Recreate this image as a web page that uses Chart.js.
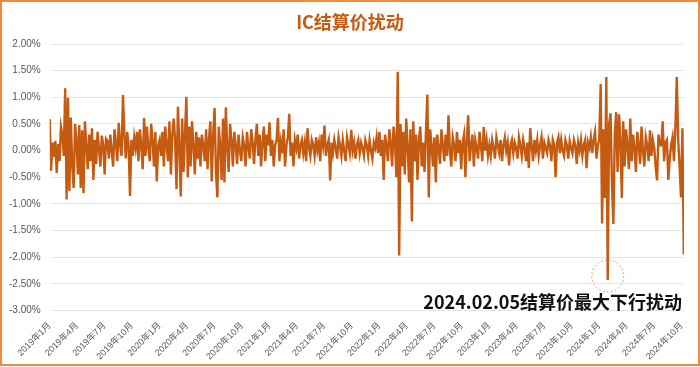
<!DOCTYPE html>
<html>
<head>
<meta charset="utf-8">
<script src="https://cdn.jsdelivr.net/npm/chart.js@4.4.1/dist/chart.umd.min.js"></script>
<style>
  html, body { margin: 0; padding: 0; background: #fff; }
  #wrap { position: relative; width: 700px; height: 367px; }
</style>
</head>
<body>
<div id="wrap"><canvas id="c"></canvas></div>
<script>
/* ── Data (percent) ───────────────────────────────────────────── */
const quarterLabels = [
    '2019年1月', '2019年4月', '2019年7月', '2019年10月',
    '2020年1月', '2020年4月', '2020年7月', '2020年10月',
    '2021年1月', '2021年4月', '2021年7月', '2021年10月',
    '2022年1月', '2022年4月', '2022年7月', '2022年10月',
    '2023年1月', '2023年4月', '2023年7月', '2023年10月',
    '2024年1月', '2024年4月', '2024年7月', '2024年10月'
];
const pointsPerYear = 78;

const y2019 = [0.59, -0.38, 0.15, -0.12, 0.18, -0.42, 0.12, -0.2, 0.45, 0.3, -0.1, 1.17, -0.92, 0.99, -0.76, 0.62, -0.3, -0.7, 0.5, 0.2,
    -0.45, 0.48, -0.7, 0.38, -0.8, 0.55, 0.1, -0.35, 0.3, -0.2, 0.42, -0.55, 0.2, -0.25, 0.35, 0.05, -0.3, 0.28, 0.1, -0.45,
    0.22, 0.18, -0.15, 0.3, 0.0, -0.3, 0.4, 0.15, -0.2, 0.52, 0.1, -0.1, 1.04, 0.3, -0.15, 0.35, 0.1, -0.85, 0.2, -0.1,
    0.25, 0.05, 0.35, -0.2, 0.4, 0.1, -0.35, 0.61, -0.1, 0.45, 0.05, -0.2, 0.5, 0.2, -0.3, 0.35, -0.58, 0.1];
const y2020 = [0.2, -0.1, 0.35, -0.3, 0.45, 0.1, -0.2, 0.55, -0.45, 0.3, 0.6, 0.2, -0.72, 0.82, 0.1, -0.86, 0.6, -0.4, 0.3, 1.01,
    -0.5, 0.45, -0.3, 0.55, 0.1, -0.45, 0.35, -0.15, 0.25, -0.3, 0.3, 0.1, -0.2, 0.4, -0.35, 0.2, 0.55, -0.58, 0.3, 0.8,
    -0.4, -0.88, 0.45, 0.1, -0.55, 0.6, -0.6, 0.81, 0.05, -0.4, 0.5, 0.2, -0.3, 0.35, 0.1, -0.25, 0.3, 0.0, -0.2, 0.25,
    0.1, -0.3, 0.35, 0.05, -0.15, 0.4, 0.15, -0.25, 0.2, 0.5, -0.1, 0.3, -0.3, 0.15, 0.45, -0.2, 0.3, 0.1];
const y2021 = [0.53, -0.1, 0.2, -0.3, 0.1, 0.2, 0.61, -0.2, 0.15, -0.05, 0.4, -0.3, 0.1, 0.25, 0.69, -0.1, 0.15, -0.3, 0.2, 0.05,
    0.3, -0.15, 0.1, 0.2, -0.05, 0.15, -0.2, 0.42, 0.05, -0.1, 0.2, 0.1, -0.1, 0.25, 0.0, 0.15, -0.2, 0.3, 0.1, 0.47,
    -0.1, 0.1, 0.2, -0.56, 0.15, -0.05, 0.2, 0.05, -0.15, 0.25, 0.1, -0.1, 0.2, 0.0, -0.2, 0.25, 0.1, -0.05, 0.39, 0.0,
    0.15, -0.15, 0.1, 0.2, -0.05, 0.15, 0.05, -0.1, 0.2, 0.1, -0.1, 0.2, 0.0, -0.15, 0.15, 0.05, 0.25, -0.05];
const y2022 = [0.35, -0.1, 0.2, -0.55, 0.3, 0.1, -0.2, 0.4, 0.15, -0.3, 0.45, 0.2, -0.5, 1.48, -1.97, 0.5, -0.3, 0.35, -0.45, 0.6,
    0.1, -0.6, 0.4, -1.33, 0.55, -0.2, 0.3, -0.55, 0.2, 0.45, -0.3, 0.15, -0.4, 0.35, 1.05, -0.88, 0.4, 0.1, -0.3, 0.25,
    -0.6, 0.3, 0.05, -0.25, 0.4, 0.1, -0.2, 0.3, -0.1, 0.66, 0.0, -0.3, 0.25, 0.1, -0.2, 0.35, -0.05, 0.2, -0.35, 0.15,
    0.3, -0.5, 0.2, 0.66, -0.2, 0.1, 0.3, -0.3, 0.2, 0.05, -0.15, 0.35, 0.1, -0.2, 0.44, 0.0, 0.2, -0.1];
const y2023 = [0.1, -0.1, 0.2, 0.05, -0.15, 0.25, 0.1, -0.05, 0.2, -0.2, 0.1, 0.25, 0.0, 0.15, -0.28, 0.1, 0.2, -0.05, 0.15, 0.05,
    -0.15, 0.25, 0.1, -0.1, 0.2, 0.05, -0.2, 0.15, -0.33, 0.42, 0.1, -0.2, 0.2, 0.0, 0.2, -0.1, 0.1, 0.25, -0.15, 0.15,
    0.05, -0.05, 0.2, 0.1, -0.2, 0.2, 0.1, -0.5, 0.15, 0.25, -0.05, 0.2, 0.0, -0.1, 0.2, 0.1, -0.15, 0.18, 0.05, -0.05,
    0.2, 0.1, -0.25, 0.15, 0.0, 0.2, -0.1, 0.1, 0.2, -0.33, 0.15, 0.05, 0.25, -0.05, 0.2, 0.35, -0.15, 0.1];
const y2024 = [0.2, 1.25, -1.37, 0.4, -0.89, 1.38, -2.43, 0.5, 0.7, -0.6, -1.38, 0.3, 0.72, -0.4, 0.68, 0.2, -0.89, 0.55, -0.3, 0.4,
    0.1, -0.35, 0.6, -0.2, 0.3, 0.05, -0.4, 0.35, 0.1, -0.25, 0.45, 0.0, -0.3, 0.25, 0.1, -0.2, 0.38, -0.1, 0.2, 0.05,
    -0.3, -0.56, 0.3, 0.1, 0.1, 0.55, -0.2, 0.15, 0.2, -0.55, -0.15, 0.1, 0.25, -0.2, 0.4, 1.38, 0.2, -0.3, -0.88, 0.42,
    -1.95];

const yearSeries = [y2019, y2020, y2021, y2022, y2023, y2024];
const yTicks = [2, 1.5, 1, 0.5, 0, -0.5, -1, -1.5, -2, -2.5, -3];
const titleText = 'IC结算价扰动';
const noteText = '2024.02.05结算价最大下行扰动';

/* ── Build points (x = months since Jan 2019) ─────────────────── */
const points = [];
yearSeries.forEach((arr, yi) => {
    arr.forEach((v, i) => points.push({ x: yi * 12 + i * 12 / pointsPerYear, y: v }));
});

const ORANGE = '#C55A11';
const FONT = '"Noto Sans CJK SC", "Noto Sans", sans-serif';
const TICK_FONT = '"Liberation Sans", "Noto Sans CJK SC", sans-serif';

/* ── Plugins: frame + title + min-point note ──────────────────── */
const framePlugin = {
    id: 'frame',
    afterDraw(chart) {
        const { ctx, width, height } = chart;
        ctx.save();
        ctx.strokeStyle = '#F08A3C';
        ctx.lineWidth = 2;
        ctx.strokeRect(1, 1, width - 2, height - 3);
        // title centred on the whole picture
        ctx.fillStyle = ORANGE;
        ctx.font = 'bold 18px ' + FONT;
        ctx.textAlign = 'center';
        ctx.textBaseline = 'middle';
        ctx.fillText(titleText, width / 2, 22);
        ctx.restore();
    }
};

const notePlugin = {
    id: 'note',
    afterDatasetsDraw(chart) {
        const { ctx, chartArea, scales } = chart;
        let min = points[0];
        points.forEach(p => { if (p.y < min.y) min = p; });
        const px = scales.x.getPixelForValue(min.x);
        const py = scales.y.getPixelForValue(min.y);
        ctx.save();
        ctx.strokeStyle = 'rgba(236,120,120,0.75)';
        ctx.lineWidth = 1;
        ctx.setLineDash([2, 2]);
        ctx.beginPath();
        ctx.arc(px, py - 4, 16, 0, Math.PI * 2);
        ctx.stroke();
        ctx.setLineDash([]);
        ctx.fillStyle = '#111';
        ctx.font = 'bold 18px ' + FONT;
        ctx.textAlign = 'right';
        ctx.textBaseline = 'middle';
        ctx.fillText(noteText, chartArea.right - 2, scales.y.getPixelForValue(-2.84));
        ctx.restore();
    }
};

/* ── Chart ────────────────────────────────────────────────────── */
new Chart(document.getElementById('c'), {
    type: 'line',
    data: {
        datasets: [{
            data: points,
            borderColor: ORANGE,
            borderWidth: 2.4,
            pointRadius: 0,
            tension: 0,
            fill: false
        }]
    },
    options: {
        responsive: true,
        maintainAspectRatio: false,
        animation: false,
        layout: { padding: { left: 0, right: 16, top: 44, bottom: 3 } },
        plugins: {
            legend: { display: false },
            tooltip: { enabled: false },
            title: { display: false }
        },
        scales: {
            x: {
                type: 'linear',
                min: 0,
                max: 69.25,
                afterBuildTicks: (scale) => { scale.ticks = quarterLabels.map((_, i) => ({ value: i * 3 })); },
                grid: { display: false },
                border: { display: false },
                ticks: {
                    autoSkip: false,
                    minRotation: 45,
                    maxRotation: 45,
                    padding: 2,
                    color: '#595959',
                    font: { family: TICK_FONT, size: 9 },
                    callback: (v) => quarterLabels[Math.round(v / 3)]
                }
            },
            y: {
                min: -3,
                max: 2,
                afterBuildTicks: (scale) => { scale.ticks = yTicks.map(v => ({ value: v })); },
                grid: { color: '#E6E6E6', drawTicks: false },
                border: { display: false },
                ticks: {
                    padding: 9,
                    color: '#595959',
                    font: { family: TICK_FONT, size: 10 },
                    callback: (v) => v.toFixed(2) + '%'
                }
            }
        }
    },
    plugins: [framePlugin, notePlugin]
});
</script>
</body>
</html>
